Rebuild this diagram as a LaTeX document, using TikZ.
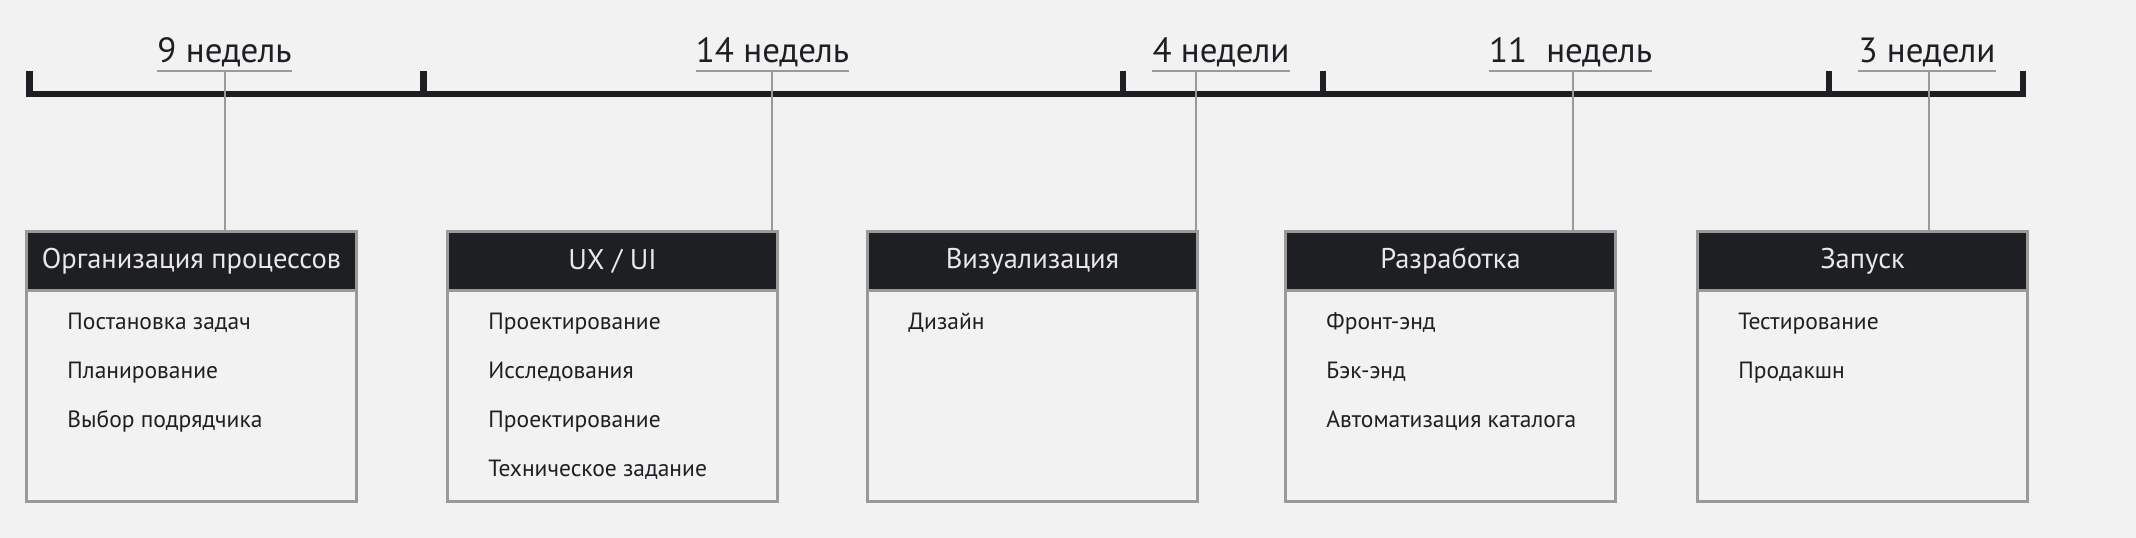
\documentclass[tikz,border=0pt]{standalone}
\usepackage{fontspec}
\setmainfont{PT Sans}
\usetikzlibrary{positioning}
\definecolor{bg}{HTML}{F2F2F2}
\definecolor{ink}{HTML}{1D1F23}
\definecolor{frame}{HTML}{9A9A9A}
\definecolor{hdrtext}{HTML}{E8E8E8}
\tikzset{
  bar/.style={draw=ink,line width=6.5pt,line join=miter,line cap=butt},
  tick/.style={draw=ink,line width=6.5pt,line cap=butt},
  lbl/.style={inner sep=0pt,text=ink,font=\fontsize{35}{38}\selectfont},
  uline/.style={draw=frame,line width=2pt},
  conn/.style={draw=frame,line width=2pt},
  card/.style={draw=frame,line width=2.5pt,fill=bg,minimum width=330pt,minimum height=270pt,inner sep=0pt,anchor=north west},
  hdr/.style={draw=frame,line width=2.5pt,fill=ink,text=hdrtext,minimum width=330pt,minimum height=59pt,inner sep=0pt,anchor=north,font=\fontsize{28.5}{30}\selectfont},
  item/.style={inner sep=0pt,anchor=base west,text=ink,font=\fontsize{23.5}{26}\selectfont}
}
\begin{document}
\begin{tikzpicture}[x=1pt,y=-1pt]
\fill[bg] (0,0) rectangle (2136,538);
\useasboundingbox (0,0) rectangle (2136,538);
% timeline
\draw[bar] (29.5,71) -- (29.5,94) -- (2023,94) -- (2023,71);
\foreach \t in {423.5,1123,1323,1829} \draw[tick] (\t,71) -- (\t,94);
% labels
\node[lbl,anchor=base] (l1) at (224.5,62.5) {9 недель};
\node[lbl,anchor=base] (l2) at (772.5,62.5) {14 недель};
\node[lbl,anchor=base] (l3) at (1221,62.5) {4 недели};
\node[lbl,anchor=base] (l4) at (1570.5,62.5) {11\hspace{0.28em} недель};
\node[lbl,anchor=base] (l5) at (1927,62.5) {3 недели};
\foreach \i in {1,...,5}
  \draw[uline] ([yshift=-8.5pt]l\i.base west) -- ([yshift=-8.5pt]l\i.base east);
% cards
\node[card] (b1) at (25.25,230.25) {};
\node[card] (b2) at (446.25,230.25) {};
\node[card] (b3) at (866.25,230.25) {};
\node[card] (b4) at (1284.25,230.25) {};
\node[card] (b5) at (1696.25,230.25) {};
\node[hdr] (h1) at (b1.north) {Организация процессов};
\node[hdr] (h2) at (b2.north) {UX / UI};
\node[hdr] (h3) at (b3.north) {Визуализация};
\node[hdr] (h4) at (b4.north) {Разработка};
\node[hdr] (h5) at (b5.north) {Запуск};
% connectors
\coordinate (c1) at (225,71);
\coordinate (c2) at (772,71);
\coordinate (c3) at (1196,71);
\coordinate (c4) at (1573,71);
\coordinate (c5) at (1929,71);
\foreach \i in {1,...,5}
  \draw[conn] (c\i) -- (c\i |- b\i.north);
% items
\node[item] (i11) at ([xshift=42pt]b1.west |- 0,329) {Постановка задач};
\node[item] (i12) at ([xshift=42pt]b1.west |- 0,378) {Планирование};
\node[item] (i13) at ([xshift=42pt]b1.west |- 0,427) {Выбор подрядчика};
\node[item] (i21) at ([xshift=42pt]b2.west |- 0,329) {Проектирование};
\node[item] (i22) at ([xshift=42pt]b2.west |- 0,378) {Исследования};
\node[item] (i23) at ([xshift=42pt]b2.west |- 0,427) {Проектирование};
\node[item] (i24) at ([xshift=42pt]b2.west |- 0,476) {Техническое задание};
\node[item] (i31) at ([xshift=42pt]b3.west |- 0,329) {Дизайн};
\node[item] (i41) at ([xshift=42pt]b4.west |- 0,329) {Фронт-энд};
\node[item] (i42) at ([xshift=42pt]b4.west |- 0,378) {Бэк-энд};
\node[item] (i43) at ([xshift=42pt]b4.west |- 0,427) {Автоматизация каталога};
\node[item] (i51) at ([xshift=42pt]b5.west |- 0,329) {Тестирование};
\node[item] (i52) at ([xshift=42pt]b5.west |- 0,378) {Продакшн};
\end{tikzpicture}
\end{document}
